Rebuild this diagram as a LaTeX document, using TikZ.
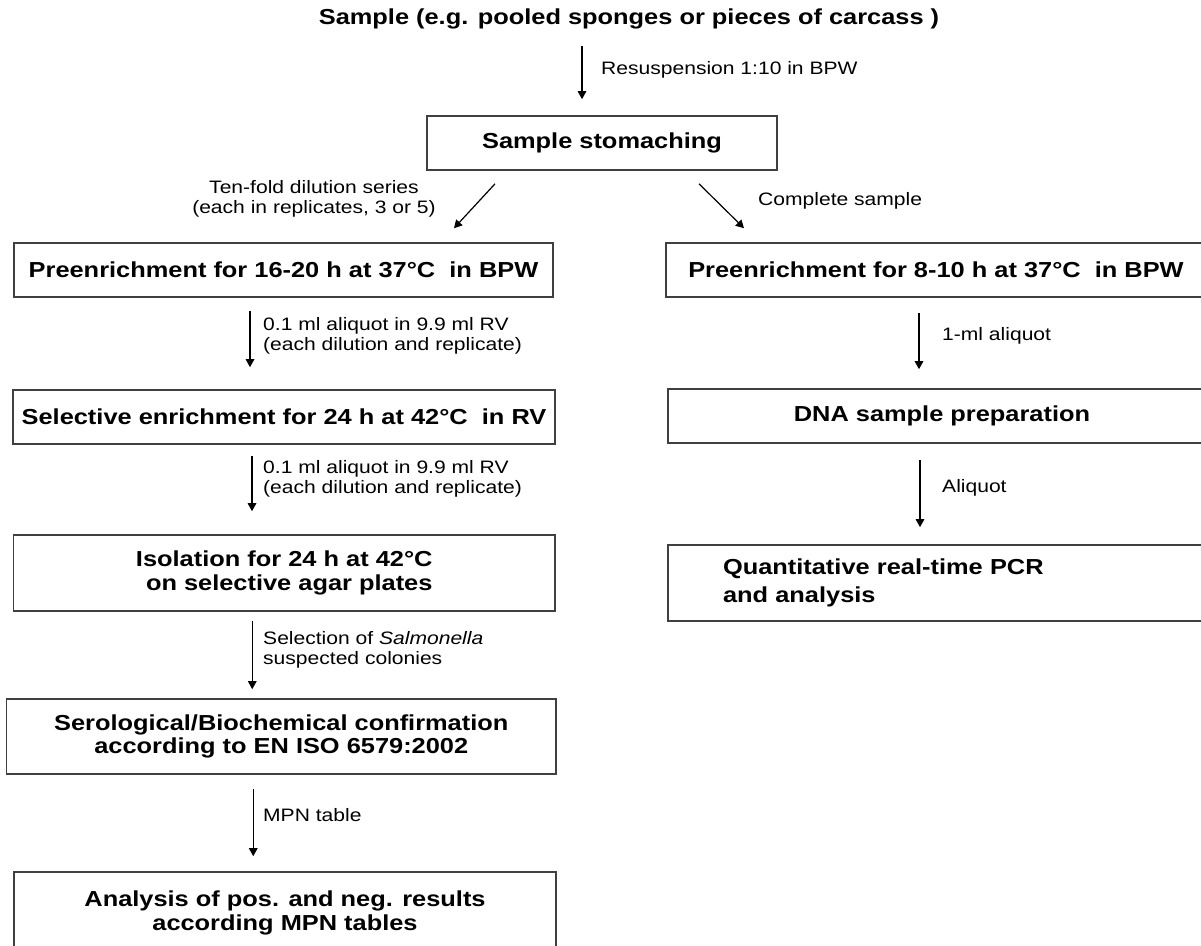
\documentclass[tikz,border=0pt]{standalone}
\usepackage{fontspec}
\setmainfont{Liberation Sans}[FakeStretch=1.17]
\usepackage{tikz}
\usetikzlibrary{arrows.meta, positioning, calc}

\newcommand{\boxtxt}{\bfseries\fontsize{21.7}{23.3}\selectfont}
\newcommand{\lbltxt}{\fontsize{18}{20}\selectfont}

\tikzset{
  stepbox/.style={draw=black!75, line width=1.6pt, minimum height=54pt, inner sep=0pt,
    font=\boxtxt, align=center},
  lbl/.style={font=\lbltxt, inner sep=0pt, align=left, anchor=west},
  arr/.style={-{Triangle[length=8pt,width=8.5pt]}, line width=1.2pt}
}

\begin{document}
\begin{tikzpicture}[x=1pt, y=-1pt]
      \useasboundingbox (0,0) rectangle (1201,945);
      \clip (0,0) rectangle (1201,945);

      % top
      \node[font=\boxtxt, inner sep=0pt] (title) at (629,19) {Sample (e.g. pooled sponges or pieces of carcass )};
      \node[stepbox, minimum width=350pt] (stom) at (602,143) {Sample stomaching};

      % left branch
      \node[stepbox, minimum width=539pt] (pre1) at (283.5,270) {Preenrichment for 16-20 h at 37°C~~in BPW};
      \node[stepbox, minimum width=542pt] (sel) at (284,417) {Selective enrichment for 24 h at 42°C~~in RV};
      \node[stepbox, minimum width=541.5pt, minimum height=76pt] (iso) at (284.25,573)
      {Isolation for 24 h at 42°C\\\hspace*{10pt}on selective agar plates};
      \node[stepbox, minimum width=549.5pt, minimum height=75pt] (sero) at (281.25,736.5)
      {Serological/Biochemical confirmation\\according to EN ISO 6579:2002};
      \node[stepbox, minimum width=542pt, minimum height=82pt] (ana) at (285,913)
      {Analysis of pos. and neg. results\\according MPN tables};

      % right branch
      \node[stepbox, minimum width=540pt] (pre2) at (936,270) {Preenrichment for 8-10 h at 37°C~~in BPW};
      \node[stepbox, minimum width=548pt] (dna) at (942,416) {DNA sample preparation};
      \node[stepbox, minimum width=542pt, minimum height=76pt, text width=432pt, align=left,
        font=\bfseries\fontsize{21.7}{28}\selectfont] (qpcr) at (939,583)
      {Quantitative real-time PCR\\and analysis};

      % labels
      \node[lbl] (resus) at (601,70) {Resuspension 1:10 in BPW};
      \node[lbl, anchor=center, align=center] (tenfold) at (314,198.5)
      {Ten-fold dilution series\\(each in replicates, 3 or 5)};
      \node[lbl] (compl) at (758,201) {Complete sample};
      \node[lbl] (rv1) at (263,336) {0.1 ml aliquot in 9.9 ml RV\\(each dilution and replicate)};
      \node[lbl] (rv2) at (263,479) {0.1 ml aliquot in 9.9 ml RV\\(each dilution and replicate)};
      \node[lbl] (colon) at (263,649.5) {Selection of \textit{Salmonella}\\suspected colonies};
      \node[lbl] (mpn) at (263,815) {MPN table};
      \node[lbl] (onemil) at (942,336) {1-ml aliquot};
      \node[lbl] (aliq) at (942,488) {Aliquot};

      % arrows
      \draw[arr, shorten <=17pt, shorten >=16pt] ([xshift=-20pt]stom.north |- title.south) -- ([xshift=-20pt]stom.north);
      \draw[arr] ($(stom.south)+(-107,13)$) -- ($(pre1.north)+(170.5,-14)$);
      \draw[arr] ($(stom.south)+(97,13)$) -- ($(pre2.north)+(-192,-14)$);

      \draw[arr, shorten <=13pt, shorten >=22pt] ([xshift=-33.5pt]pre1.south) -- ([xshift=-33.5pt]pre1.south |- sel.north);
      \draw[arr, shorten <=11pt, shorten >=23pt] ([xshift=-32pt]sel.south) -- ([xshift=-32pt]sel.south |- iso.north);
      \draw[arr, shorten <=9pt, shorten >=9pt] ([xshift=-32pt]iso.south) -- ([xshift=-32pt]iso.south |- sero.north);
      \draw[arr, shorten <=14pt, shorten >=15pt] ([xshift=-28pt]sero.south) -- ([xshift=-28pt]sero.south |- ana.north);

      \draw[arr, shorten <=15pt, shorten >=19pt] ([xshift=-17pt]pre2.south) -- ([xshift=-17pt]pre2.south |- dna.north);
      \draw[arr, shorten <=16pt, shorten >=17pt] ([xshift=-22pt]dna.south) -- ([xshift=-22pt]dna.south |- qpcr.north);
  \end{tikzpicture}
\end{document}
